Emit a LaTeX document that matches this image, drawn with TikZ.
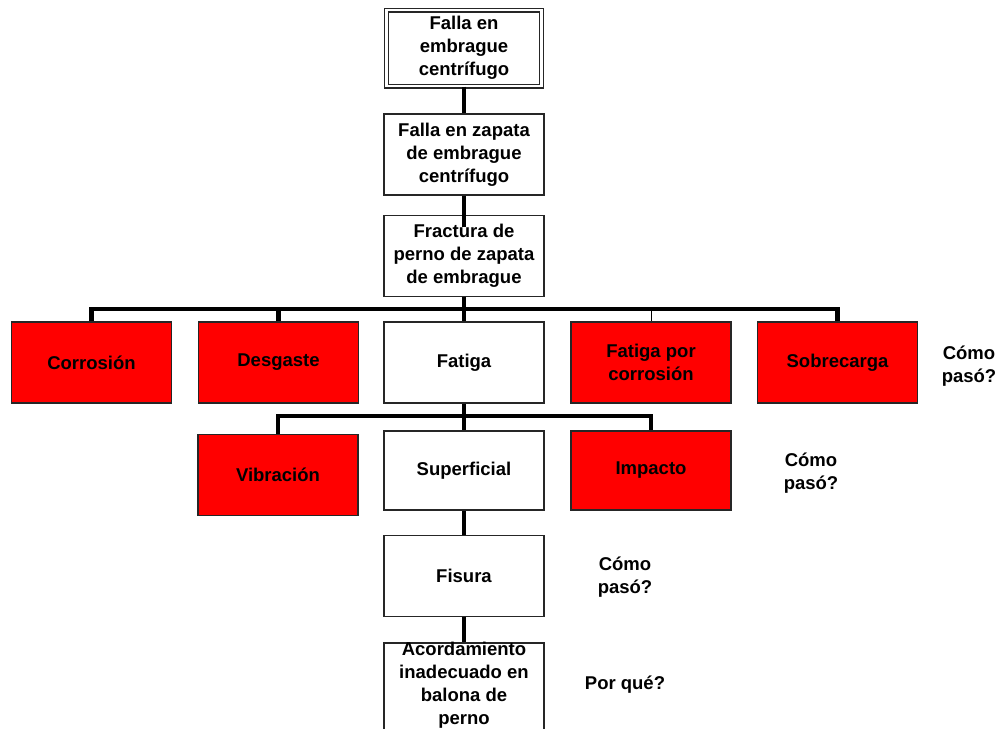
\documentclass[tikz,border=0pt]{standalone}
\usepackage{fontspec}
\setmainfont{Liberation Sans}
\begin{document}
\begin{tikzpicture}[x=1pt,y=-1pt,
  txt/.style={align=center, font=\bfseries\fontsize{18.5}{23}\selectfont},
  box/.style={txt, draw=black!85, line width=1.6pt, minimum width=160pt, minimum height=81pt, inner sep=0pt},
  redbox/.style={box, fill=red},
  topbox/.style={box, double, double distance=2.2pt, line width=1.4pt, minimum width=155pt, minimum height=76pt},
  conn/.style={line width=4.5pt},
  thinconn/.style={line width=1pt},
  note/.style={txt}
]
\clip (0,0) rectangle (1003,728);
\useasboundingbox (0,0) rectangle (1003,728);

\node[topbox] (top) at (464,48) {Falla en\\embrague\\centrífugo};
\node[box] (zap) at (464,154.5) {Falla en zapata\\de embrague\\centrífugo};
\node[box] (frac) at (464,256) {Fractura de\\perno de zapata\\de embrague};

\node[redbox] (corr) at (91.5,362.5) {Corrosión};
\node[redbox] (desg) at (278.5,362.5) {Desgaste};
\node[box] (fat) at (464,362.5) {Fatiga};
\node[redbox] (fpc) at (651,362.5) {Fatiga por\\corrosión};
\node[redbox] (sobre) at (837.5,362.5) {Sobrecarga};
\node[note] (q1) at (969,366) {Cómo\\pasó?};

\node[redbox] (vib) at (278,475) {Vibración};
\node[box, minimum height=79pt] (sup) at (464,470.5) {Superficial};
\node[redbox, minimum height=79pt] (imp) at (651,470.5) {Impacto};
\node[note] (q2) at (811,473) {Cómo\\pasó?};

\node[box] (fis) at (464,576) {Fisura};
\node[note] (q3) at (625,577) {Cómo\\pasó?};

\node[box, minimum height=100pt] (acord) at (464,693) {};
\node[txt] (acordtxt) at (464,685) {Acordamiento\\inadecuado en\\balona de\\perno};
\node[note] (q4) at (625,685) {Por qué?};

\draw[conn] (top.south) -- (zap.north);
\draw[conn] (zap.south) -- ([yshift=-12pt]frac.north);

\coordinate (b1) at (464,309);
\draw[conn] (frac.south) -- (b1);
\draw[conn] (corr.north) |- (sobre.north |- b1) -- (sobre.north);
\draw[conn] (desg.north) -- (desg.north |- b1);
\draw[conn] (fat.north) -- (b1);
\draw[thinconn] (fpc.north) -- (fpc.north |- b1);

\coordinate (b2) at (464,416);
\draw[conn] (fat.south) -- (b2);
\draw[conn] (vib.north) |- (imp.north |- b2) -- (imp.north);
\draw[conn] (sup.north) -- (b2);
\draw[conn] (sup.south) -- (fis.north);
\draw[conn] (fis.south) -- (acord.north);
\end{tikzpicture}
\end{document}
